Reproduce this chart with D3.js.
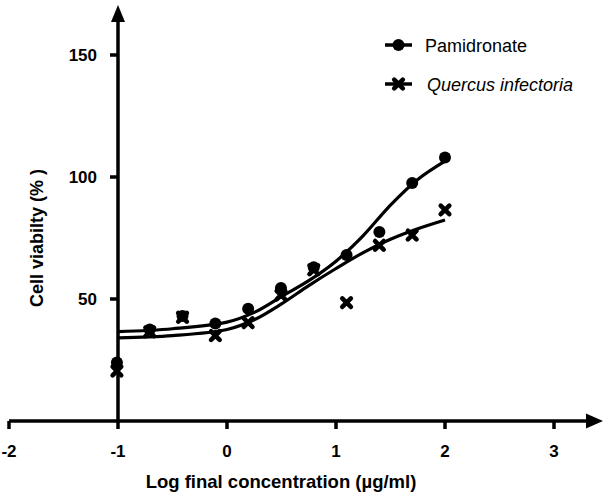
<!DOCTYPE html>
<html><head><meta charset="utf-8">
<script src="https://cdn.jsdelivr.net/npm/d3@7"></script>
<style>body{margin:0;background:#fff}svg{display:block}text{font-family:"Liberation Sans",Arial,sans-serif;fill:#000}</style>
</head><body>
<script>
// Data (log10 final concentration, % viability)
const logConc = [-1.01, -0.709, -0.408, -0.107, 0.194, 0.495, 0.796, 1.097, 1.398, 1.699, 2.0];
const pamidronate = [24, 37.5, 43, 40, 46, 54.5, 63, 68, 77.5, 97.5, 108];
const quercus = [20.5, 36.5, 42.5, 35, 40.3, 51.6, 62, 48.5, 72, 76.2, 86.5];
// fitted curves
const fitX = [-1.0, -0.5, 0.0, 0.25, 0.5, 0.75, 1.0, 1.25, 1.5, 1.75, 2.0];
const fitPamidronate = [36.6, 37.8, 40.5, 44.5, 51, 57.5, 65.5, 76, 88.5, 99, 106.5];
const fitQuercus = [34.1, 35.0, 37.5, 41.5, 48, 55.5, 62.5, 69, 74.5, 78.8, 82.4];
const xTicks = [-2, -1, 0, 1, 2, 3];
const yTicks = [50, 100, 150];
const seriesNames = ["Pamidronate", "Quercus infectoria"];

const W = 606, H = 500;
const svg = d3.select("body").append("svg").attr("width", W).attr("height", H);
const x = d3.scaleLinear().domain([-2, 3]).range([9, 554]);
const y = d3.scaleLinear().domain([0, 150]).range([421, 55]);
const x0 = x(-1), y0 = y(0);
const AW = 3.5;

// x axis
svg.append("line").attr("x1", x(-2)).attr("x2", 590).attr("y1", y0).attr("y2", y0)
  .attr("stroke", "#000").attr("stroke-width", AW);
svg.append("path").attr("d", `M603,${y0} L586,${y0-7.5} L586,${y0+7.5} Z`).attr("fill", "#000");
const xa = svg.append("g");
xTicks.forEach(t => {
  xa.append("line").attr("x1", x(t)).attr("x2", x(t)).attr("y1", y0).attr("y2", y0 + 8)
    .attr("stroke", "#000").attr("stroke-width", AW);
  xa.append("text").attr("x", x(t)).attr("y", 457).attr("text-anchor", "middle")
    .attr("font-size", 17).attr("font-weight", "bold").text(t);
});
// y axis
svg.append("line").attr("x1", x0).attr("x2", x0).attr("y1", y0 + 1.75).attr("y2", 18)
  .attr("stroke", "#000").attr("stroke-width", AW);
svg.append("path").attr("d", `M${x0},5 L${x0-7},22 L${x0+7},22 Z`).attr("fill", "#000");
yTicks.forEach(t => {
  svg.append("line").attr("x1", x0 - 8).attr("x2", x0).attr("y1", y(t)).attr("y2", y(t))
    .attr("stroke", "#000").attr("stroke-width", AW);
  svg.append("text").attr("x", 97).attr("y", y(t) + 6).attr("text-anchor", "end")
    .attr("font-size", 17).attr("font-weight", "bold").text(t);
});
// axis titles
svg.append("text").attr("x", 281).attr("y", 488).attr("text-anchor", "middle")
  .attr("font-size", 18.5).attr("font-weight", "bold").text("Log final concentration (µg/ml)");
svg.append("text").attr("transform", "translate(43,238) rotate(-90)").attr("text-anchor", "middle")
  .attr("font-size", 18).attr("font-weight", "bold").text("Cell viabilty (% )");

// curves
const line = d3.line().x(d => x(d[0])).y(d => y(d[1])).curve(d3.curveCatmullRom.alpha(0.5));
[fitPamidronate, fitQuercus].forEach(vals => {
  svg.append("path").datum(fitX.map((v, i) => [v, vals[i]])).attr("d", line)
    .attr("fill", "none").attr("stroke", "#000").attr("stroke-width", 3.2);
});

function cross(g, cx, cy, s) {
  g.append("path").attr("d", `M${cx-s},${cy-s}L${cx+s},${cy+s}M${cx-s},${cy+s}L${cx+s},${cy-s}`)
    .attr("stroke", "#000").attr("stroke-width", 4.6).attr("stroke-linecap", "round");
}
const pts = svg.append("g");
logConc.forEach((c, i) => {
  pts.append("circle").attr("cx", x(c)).attr("cy", y(pamidronate[i])).attr("r", 6).attr("fill", "#000");
});
logConc.forEach((c, i) => cross(pts, x(c), y(quercus[i]), 4.3));

// legend
const lg = svg.append("g");
lg.append("line").attr("x1", 385).attr("x2", 412).attr("y1", 45).attr("y2", 45).attr("stroke", "#000").attr("stroke-width", 3.5);
lg.append("circle").attr("cx", 398.5).attr("cy", 45).attr("r", 6).attr("fill", "#000");
lg.append("text").attr("x", 425).attr("y", 52).attr("font-size", 18).text(seriesNames[0]);
lg.append("line").attr("x1", 385).attr("x2", 412).attr("y1", 84).attr("y2", 84).attr("stroke", "#000").attr("stroke-width", 3.5);
cross(lg, 398.5, 84, 4.3);
lg.append("text").attr("x", 427).attr("y", 91).attr("font-size", 18).attr("font-style", "italic").text(seriesNames[1]);
</script>
</body></html>
